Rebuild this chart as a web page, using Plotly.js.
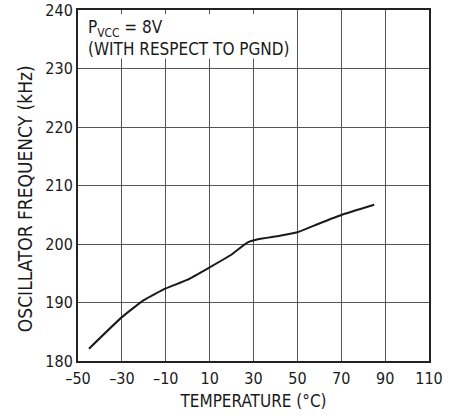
<!DOCTYPE html>
<html><head><meta charset="utf-8">
<script src="https://cdn.plot.ly/plotly-3.0.1.min.js"></script>
<style>html,body{margin:0;padding:0;background:#fff}#c{width:462px;height:418px}</style>
</head><body><div id="c"></div>
<script>
const temperature = [-45, -30, -20, -10, 0, 10, 20, 27, 32, 42, 50, 60, 70, 85];
const frequency = [182.1, 187.5, 190.4, 192.4, 193.9, 196.0, 198.2, 200.2, 200.8, 201.4, 202.0, 203.5, 204.95, 206.7];
const xTickVals = [-50, -30, -10, 10, 30, 50, 70, 90, 110];
const xTickText = ['–50', '–30', '–10', '10', '30', '50', '70', '90', '110'];
const yTickVals = [180, 190, 200, 210, 220, 230, 240];

const FONT = 'DejaVu Sans Condensed, Liberation Sans Narrow, sans-serif';
const trace = {
  x: temperature, y: frequency, type: 'scatter', mode: 'lines',
  line: {color: '#1a1a1a', width: 2, shape: 'spline', smoothing: 0.4},
  hoverinfo: 'skip'
};
const axisCommon = {
  showgrid: true, gridcolor: '#555', gridwidth: 1,
  showline: true, linecolor: '#222', linewidth: 2, mirror: 'ticks',
  ticks: 'inside', ticklen: 4, tickcolor: '#555', tickwidth: 1,
  zeroline: false, tickfont: {family: FONT, size: 16, color: '#1a1a1a'}
};
const layout = {
  width: 462, height: 418,
  margin: {l: 78, r: 33, t: 10, b: 57},
  paper_bgcolor: '#fff', plot_bgcolor: '#fff',
  showlegend: false,
  font: {family: FONT, color: '#1a1a1a'},
  xaxis: Object.assign({}, axisCommon, {
    range: [-50, 110], tickmode: 'array', tickvals: xTickVals, ticktext: xTickText,
    ticklabelstandoff: 2,
    title: {text: 'TEMPERATURE (°C)', font: {family: FONT, size: 17, color: '#1a1a1a'}, standoff: 8}
  }),
  yaxis: Object.assign({}, axisCommon, {
    range: [180, 240], tickmode: 'array', tickvals: yTickVals
  }),
  shapes: [{
    type: 'rect', xref: 'paper', yref: 'paper', layer: 'above',
    x0: 0.004, x1: 0.61, y0: 0.862, y1: 0.988,
    fillcolor: '#fff', line: {width: 0}
  }],
  annotations: [{
    xref: 'paper', yref: 'paper', x: 0.022, y: 0.987, xanchor: 'left', yanchor: 'top',
    showarrow: false, align: 'left',
    text: 'P<sub>VCC</sub> = 8V<br>(WITH RESPECT TO PGND)',
    font: {family: FONT, size: 17, color: '#1a1a1a'}
  }, {
    xref: 'paper', yref: 'paper', x: -0.151, y: 0.464, xanchor: 'center', yanchor: 'middle',
    showarrow: false, textangle: -90,
    text: 'OSCILLATOR FREQUENCY (kHz)',
    font: {family: FONT, size: 19, color: '#1a1a1a'}
  }]
};
Plotly.newPlot('c', [trace], layout, {staticPlot: true, displayModeBar: false});
</script></body></html>
